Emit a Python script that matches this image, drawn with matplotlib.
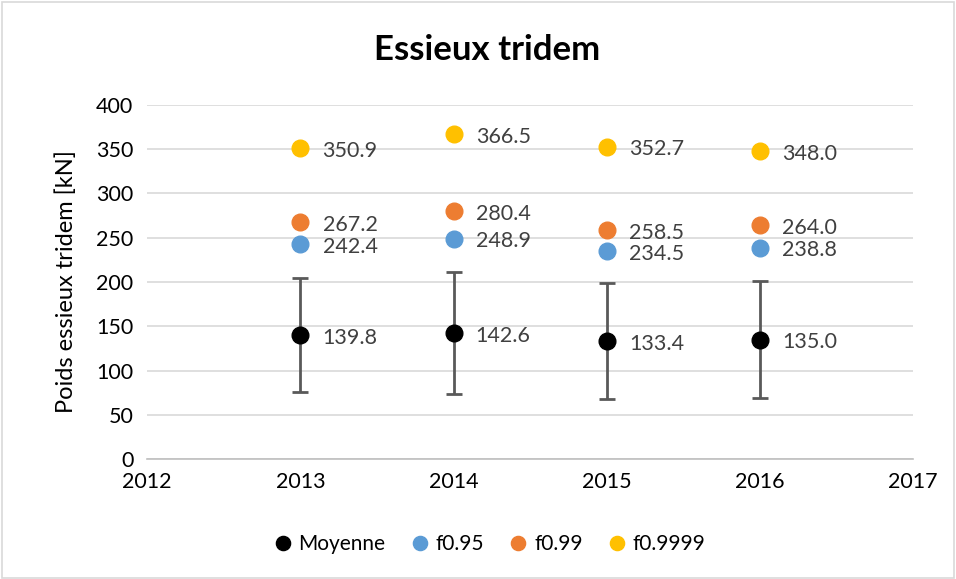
import matplotlib
matplotlib.use("Agg")
import matplotlib.pyplot as plt
from matplotlib.patches import Rectangle

years = [2013, 2014, 2015, 2016]
moyenne = [139.8, 142.6, 133.4, 135.0]
ecart = [64.4, 68.5, 65.0, 66.5]
f095 = [242.4, 248.9, 234.5, 238.8]
f099 = [267.2, 280.4, 258.5, 264.0]
f09999 = [350.9, 366.5, 352.7, 348.0]

plt.rcParams['font.family'] = ['Lato', 'DejaVu Sans']

fig = plt.figure(figsize=(9.56, 5.79), dpi=100)
ax = fig.add_axes([0.154, 0.207, 0.801, 0.612])

fig.patches.append(Rectangle((0.002, 0.002), 0.996, 0.994, transform=fig.transFigure,
                             fill=False, edgecolor="#d9d9d9", lw=1.2))

ax.errorbar(years, moyenne, yerr=ecart, fmt="none", ecolor="#595959",
            elinewidth=2, capsize=6, capthick=2, zorder=2)

series = [
    ("Moyenne", moyenne, "black"),
    ("f0.95", f095, "#5B9BD5"),
    ("f0.99", f099, "#ED7D31"),
    ("f0.9999", f09999, "#FFC000"),
]
for name, vals, col in series:
    ax.plot(years, vals, "o", color=col, markersize=12, label=name, zorder=3)
    for x, v in zip(years, vals):
        ax.annotate(f"{v:.1f}", (x, v), xytext=(16, -2), textcoords="offset points",
                    va="center", ha="left", fontsize=15.5, color="#404040")

ax.set_xlim(2012, 2017)
ax.set_ylim(0, 400)
ax.set_yticks(range(0, 401, 50))
ax.set_xticks(range(2012, 2018))
ax.grid(axis="y", color="#d9d9d9", lw=1.2)
ax.set_axisbelow(True)
for s in ["top", "right", "left"]:
    ax.spines[s].set_visible(False)
ax.spines["bottom"].set_color("#bfbfbf")
ax.spines["bottom"].set_linewidth(1.2)
ax.tick_params(axis="both", length=0, labelsize=15.5, colors="black")
ax.tick_params(axis="x", pad=9)
ax.tick_params(axis="y", pad=10)
ax.set_ylabel("Poids essieux tridem [kN]", fontsize=17, labelpad=14)

fig.text(0.51, 0.913, "Essieux tridem", ha="center", va="center",
         fontsize=25, fontweight="bold")

fig.legend(loc="center", bbox_to_anchor=(0.512, 0.06), ncol=4, frameon=False,
           fontsize=15, handlelength=0.9, handletextpad=0.3, columnspacing=1.2,
           markerscale=0.85)

fig.savefig("out.png", dpi=100)
